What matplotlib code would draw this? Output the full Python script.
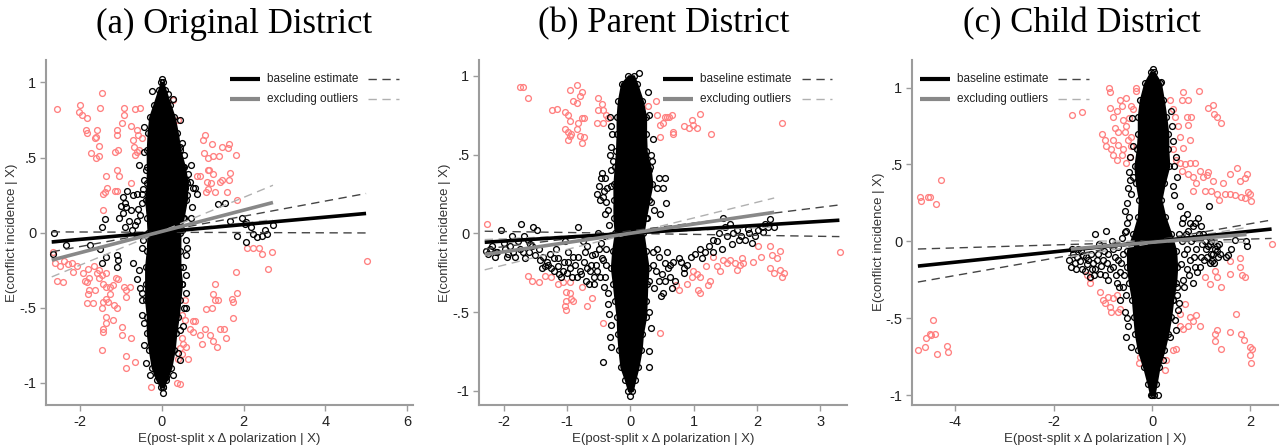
import matplotlib
matplotlib.use('Agg')
import matplotlib.pyplot as plt
import numpy as np

RED = '#ff8080'
SPINE = '#9c9c9c'
SANS = ['Liberation Sans Narrow', 'Liberation Sans', 'DejaVu Sans']

titles = ['(a) Original District', '(b) Parent District', '(c) Child District']
xticks = [[-2, 0, 2, 4, 6], [-2, -1, 0, 1, 2, 3], [-4, -2, 0, 2]]
yticks = [-1, -0.5, 0, 0.5, 1]
ytick_labels = ['-1', '-.5', '0', '.5', '1']
legend_labels = ['baseline estimate', 'excluding outliers']

# ---------------- (a) Original District ----------------
a_red = np.array([
    (-2.58, 0.82), (-2.01, 0.85), (-2.03, 0.80), (-1.97, 0.78), (-1.83, 0.76), (-1.86, 0.68), (-1.83, 0.66),
    (-1.46, 0.93), (-1.52, 0.83), (-1.60, 0.68), (-1.62, 0.64), (-1.64, 0.63), (-1.55, 0.58), (-1.73, 0.53),
    (-1.62, 0.50), (-1.54, 0.51), (-0.92, 0.83), (-0.93, 0.78), (-0.99, 0.73), (-1.11, 0.68), (-1.10, 0.65),
    (-0.66, 0.82), (-0.54, 0.83), (-0.77, 0.71), (-0.62, 0.68), (-0.58, 0.65), (-0.50, 0.63), (-0.70, 0.62),
    (-0.69, 0.57), (-0.62, 0.54), (-0.66, 0.52), (-0.56, 0.55), (-1.15, 0.54), (-1.07, 0.55), (-1.11, 0.42),
    (-1.05, 0.38), (-1.11, 0.28), (-1.36, 0.38), (-1.40, 0.27), (-1.34, 0.30), (-1.44, 0.26), (-1.45, 0.15),
    (-0.76, 0.33), (-1.15, 0.28),
    (0.28, 0.88), (0.40, 0.75), (1.01, 0.62), (1.05, 0.65), (1.22, 0.59), (1.03, 0.53), (1.14, 0.50),
    (1.26, 0.51), (1.40, 0.51), (1.46, 0.57), (1.61, 0.56), (1.65, 0.59), (1.81, 0.52), (1.13, 0.42),
    (1.16, 0.42), (0.93, 0.38), (0.85, 0.38), (1.26, 0.39), (1.42, 0.34), (1.48, 0.35), (1.65, 0.35),
    (1.67, 0.40), (1.11, 0.34), (1.19, 0.33), (1.14, 0.29), (1.07, 0.27), (1.30, 0.27), (1.60, 0.27), (1.84, 0.22),
    (-2.66, -0.13), (-2.57, -0.32), (-2.43, -0.33), (-2.62, -0.20), (-2.50, -0.22), (-2.40, -0.19), (-2.30, -0.21),
    (-2.20, -0.20), (-2.09, -0.22), (-2.19, -0.26), (-1.93, -0.27), (-1.81, -0.24), (-1.78, -0.30), (-1.89, -0.32),
    (-1.83, -0.33), (-1.67, -0.22), (-1.60, -0.27), (-1.54, -0.25), (-1.54, -0.30), (-1.78, -0.38), (-1.81, -0.41),
    (-1.64, -0.38), (-1.83, -0.47), (-1.70, -0.47), (-1.48, -0.28), (-1.36, -0.27), (-1.44, -0.34), (-1.37, -0.36),
    (-1.27, -0.36), (-1.19, -0.35), (-1.13, -0.30), (-1.07, -0.31), (-1.27, -0.41), (-1.31, -0.46), (-1.44, -0.46),
    (-1.48, -0.50), (-1.37, -0.44), (-1.36, -0.56), (-1.37, -0.60), (-1.44, -0.64), (-1.45, -0.66), (-1.18, -0.48),
    (-1.11, -0.50), (-1.19, -0.58), (-1.46, -0.78), (-0.93, -0.36), (-0.87, -0.38), (-0.78, -0.36), (-0.87, -0.43),
    (-0.99, -0.63), (-0.99, -0.68), (-0.77, -0.70), (-0.87, -0.82), (-0.89, -0.90), (-0.66, -0.86), (-0.28, -1.03),
    (0.56, -0.45), (0.48, -0.55), (0.56, -0.58), (0.75, -0.59), (0.81, -0.59), (0.69, -0.64), (0.77, -0.66),
    (0.93, -0.68), (0.97, -0.74), (1.05, -0.64), (1.18, -0.68), (1.26, -0.72), (1.34, -0.76), (1.42, -0.64),
    (1.52, -0.64), (1.58, -0.70), (1.75, -0.57), (0.48, -0.70), (0.52, -0.74), (0.44, -0.77), (0.60, -0.76),
    (0.48, -0.81), (0.40, -0.84), (0.64, -0.84), (1.09, -0.51), (1.22, -0.50), (1.30, -0.45), (1.38, -0.45),
    (1.26, -0.41), (1.30, -0.34), (1.71, -0.44), (1.75, -0.46), (1.84, -0.40), (1.81, -0.26), (0.36, -1.00),
    (0.44, -1.01), (2.08, -0.10), (2.24, -0.10), (2.37, -0.10), (2.45, -0.14), (2.69, -0.13), (2.61, -0.24),
    (5.02, -0.19),
])
a_blk = np.array([
    (-2.65, 0.00), (-2.68, -0.14), (-2.34, -0.08), (-1.76, -0.08), (-1.52, -0.11), (-1.48, 0.04), (-1.40, 0.09),
    (-1.48, -0.20), (-1.36, -0.16), (-1.11, -0.15), (-1.09, -0.23), (-1.07, -0.18), (-0.95, 0.24), (-0.91, 0.20),
    (-0.87, 0.17), (-0.95, 0.13), (-0.91, 0.04), (-0.80, 0.08), (-0.74, 0.02), (-0.70, -0.20), (-0.62, 0.26),
    (-0.58, 0.16), (-0.50, 0.26), (-0.46, 0.29), (-0.62, 0.08), (-0.54, 0.12), (-0.39, 0.42), (-0.44, 0.54),
    (-0.60, -0.31), (-0.54, -0.37), (-0.38, -0.87), (-0.25, 0.94), (0.00, 1.02), (0.01, 0.95), (0.16, 0.92),
    (0.26, 0.89), (0.44, 0.57), (0.51, 0.44), (0.65, 0.39), (0.69, 0.34), (0.85, 0.26), (0.56, 0.30),
    (0.73, 0.17), (0.48, 0.02), (0.60, -0.05), (0.51, -0.23), (0.48, -0.34), (1.38, 0.19), (1.54, 0.20),
    (1.66, 0.08), (1.95, 0.10), (2.03, 0.06), (2.07, 0.07), (2.19, 0.04), (2.24, -0.01), (2.32, -0.03),
    (2.45, -0.02), (2.52, 0.02), (2.57, -0.01), (2.73, 0.05), (2.07, -0.06), (1.83, -0.02), (0.03, -1.07),
    (0.02, -1.03), (0.11, -0.96), (-0.13, -0.94), (0.26, -0.95),
    (-0.45, 0.70), (-0.44, 0.35), (-0.47, -0.05), (-0.48, -0.45), (-0.45, -0.60), (0.50, 0.60), (0.45, 0.75),
    (0.62, 0.25), (0.55, 0.10), (0.58, -0.15), (0.60, -0.40), (0.55, -0.50), (0.45, -0.65), (0.40, -0.80),
    (-0.55, 0.45), (-0.50, 0.20), (-0.50, -0.10), (-0.55, -0.25), (-0.50, -0.40), (-0.50, -0.55), (-0.45, -0.75),
    (0.55, 0.52), (0.70, 0.45), (0.60, 0.35), (0.75, 0.30), (0.70, 0.10), (0.62, -0.10), (0.60, -0.28),
    (0.60, -0.50), (0.52, -0.62), (0.45, -0.85), (-0.30, -0.95), (0.80, 0.30), (-0.70, 0.25), (-0.75, 0.15),
    (-0.65, 0.05), (-0.85, 0.28), (-1.00, 0.18), (-1.05, 0.10),
])
a_core_y = [1.00, 0.95, 0.85, 0.77, 0.66, 0.55, 0.44, 0.33, 0.22, 0.10, 0.00, -0.12, -0.23, -0.34, -0.45,
            -0.56, -0.67, -0.78, -0.90, -0.98, -1.03]
a_core_lo = [-0.02, -0.08, -0.20, -0.30, -0.34, -0.36, -0.36, -0.36, -0.40, -0.36, -0.34, -0.36, -0.40, -0.40,
             -0.40, -0.36, -0.36, -0.31, -0.24, -0.13, -0.03]
a_core_hi = [0.02, 0.08, 0.20, 0.30, 0.38, 0.44, 0.55, 0.62, 0.60, 0.52, 0.44, 0.44, 0.44, 0.48, 0.44, 0.40,
             0.34, 0.30, 0.22, 0.11, 0.03]
a_base_x, a_base_y = [-2.70, 5.00], [-0.063, 0.127]
a_base_ci = ([-0.129, 0.260], [0.004, -0.003])
a_excl_x, a_excl_y = [-2.70, 2.72], [-0.184, 0.200]
a_excl_ci = ([-0.296, 0.315], [-0.070, 0.085])

# ---------------- (b) Parent District ----------------
b_red = np.array([
    (-1.75, 0.93), (-1.70, 0.93), (-1.62, 0.86), (-1.23, 0.78), (-1.16, 0.79), (-1.03, 0.77), (-0.96, 0.91),
    (-0.85, 0.94), (-0.77, 0.90), (-0.79, 0.87), (-0.90, 0.84), (-0.85, 0.83), (-0.98, 0.75), (-0.95, 0.71),
    (-1.03, 0.66), (-0.98, 0.64), (-0.93, 0.63), (-0.85, 0.66), (-0.77, 0.73), (-0.74, 0.73), (-0.82, 0.70),
    (-0.95, 0.62), (-0.99, 0.59), (-0.79, 0.62), (-0.74, 0.61), (-0.77, 0.57), (-0.51, 0.86), (-0.45, 0.82),
    (-0.51, 0.78), (-0.43, 0.78), (-0.52, 0.70), (-0.43, 0.70), (-0.38, 0.75), (-0.35, 0.73),
    (0.28, 0.81), (0.41, 0.84), (0.42, 0.75), (0.47, 0.69), (0.46, 0.61), (0.52, 0.70), (0.55, 0.74),
    (0.58, 0.74), (0.61, 0.74), (0.65, 0.75), (0.68, 0.64), (0.68, 0.63), (0.84, 0.68), (0.92, 0.67),
    (0.97, 0.72), (1.05, 0.67), (0.99, 0.69), (1.10, 0.76), (1.28, 0.63), (2.39, 0.70),
    (-2.26, 0.06), (-1.61, -0.27), (-1.56, -0.30), (-1.45, -0.31), (-1.35, -0.27), (-1.26, -0.28), (-1.14, -0.32),
    (-1.06, -0.31), (-0.95, -0.31), (-1.01, -0.37), (-0.95, -0.38), (-1.01, -0.43), (-1.03, -0.46), (-1.01, -0.49),
    (-0.93, -0.42), (-0.90, -0.43), (-0.77, -0.34), (-0.69, -0.46), (-0.61, -0.41), (-0.44, -0.57), (0.47, -0.63),
    (0.72, -0.33), (0.77, -0.36), (0.89, -0.32), (0.97, -0.28), (0.99, -0.24), (1.05, -0.26), (1.10, -0.28),
    (1.07, -0.36), (1.10, -0.38), (1.23, -0.33), (1.26, -0.30), (1.20, -0.21), (1.31, -0.15), (1.36, -0.21),
    (1.41, -0.24), (1.47, -0.17), (1.52, -0.19), (1.57, -0.17), (1.65, -0.19), (1.68, -0.23), (1.73, -0.20),
    (1.76, -0.16), (1.78, -0.19), (1.94, -0.18), (2.02, -0.08), (2.07, -0.15), (2.21, -0.08), (2.24, -0.14),
    (2.21, -0.22), (2.26, -0.25), (2.37, -0.11), (2.31, -0.16), (2.37, -0.23), (2.42, -0.25), (2.39, -0.28),
    (3.31, -0.12),
])
b_blk = np.array([
    (-2.28, -0.11), (-2.22, -0.10), (-2.14, -0.15), (-2.05, 0.02), (-1.98, -0.10), (-1.87, -0.02), (-1.82, -0.15),
    (-1.72, 0.06), (-1.66, -0.16), (-1.58, -0.07), (-1.53, 0.04), (-1.48, 0.02), (-1.35, -0.21), (-1.27, -0.13),
    (-1.21, -0.16), (-1.14, -0.21), (-1.06, -0.24), (-1.03, -0.05), (-0.95, -0.22), (-0.90, -0.15), (-0.85, -0.28),
    (-0.82, 0.04), (-0.75, -0.05), (-0.69, -0.22), (-0.65, -0.32), (-0.58, -0.28), (-0.56, -0.13), (-0.51, 0.00),
    (-0.48, 0.21), (-0.45, 0.38), (-0.43, 0.23), (-0.40, 0.12), (-0.53, 0.25), (-0.37, 0.29), (-0.44, -0.17),
    (-0.40, -0.28), (-0.35, -0.38), (-0.33, -0.51), (-0.32, -0.66), (-0.43, -0.82), (-0.32, 0.74), (-0.29, 0.63),
    (-0.32, 0.50), (-0.28, 0.46), (0.26, 0.10), (0.34, 0.46), (0.42, 0.29), (0.52, 0.29), (0.57, 0.19),
    (0.47, 0.12), (0.55, -0.19), (0.63, -0.28), (0.52, -0.38), (0.76, -0.16), (0.84, -0.22), (1.02, -0.13),
    (1.13, -0.16), (1.24, -0.08), (1.36, -0.05), (1.44, -0.10), (1.47, 0.10), (1.57, 0.06), (1.60, -0.07),
    (1.68, 0.02), (1.81, -0.04), (1.92, -0.06), (2.02, 0.02), (2.13, 0.06), (2.21, 0.09), (2.26, 0.04),
    (0.00, -1.03), (0.13, 1.02),
    (-2.10, -0.12), (-1.93, -0.13), (-1.75, -0.10), (-1.62, -0.04), (-1.42, -0.17), (-1.30, -0.20), (-1.18, -0.10),
    (-1.12, -0.26), (-0.98, -0.18), (-0.80, -0.24), (-0.72, -0.12), (-0.62, -0.20), (-0.52, -0.24), (-0.46, -0.06),
    (-0.38, -0.20), (0.35, -0.20), (0.42, -0.10), (0.45, -0.30), (0.62, -0.20), (0.70, -0.30), (0.90, -0.20),
    (1.30, -0.12), (1.52, -0.02), (1.75, -0.02), (1.88, 0.00), (2.08, 0.04), (0.35, 0.60), (0.30, 0.75),
    (0.32, -0.60), (0.30, -0.75), (-0.30, 0.30), (-0.40, 0.35),
    (-2.25, -0.13), (-2.18, -0.08), (-2.12, -0.12), (-2.00, -0.06), (-1.95, -0.15), (-1.90, -0.08), (-1.85, -0.12),
    (-1.78, -0.05), (-1.70, -0.12), (-1.68, -0.02), (-1.60, -0.12), (-1.55, -0.08), (-1.50, -0.14), (-1.45, -0.10),
    (-1.40, -0.22), (-1.38, -0.15), (-1.32, -0.18), (-1.25, -0.22), (-1.20, -0.24), (-1.15, -0.16), (-1.10, -0.28),
    (-1.05, -0.18), (-1.00, -0.25), (-0.98, -0.12), (-0.92, -0.28), (-0.88, -0.20), (-0.83, -0.15), (-0.78, -0.26),
    (-0.74, -0.18), (-0.70, -0.30), (-0.68, -0.08), (-0.64, -0.24), (-0.60, -0.14), (-0.57, -0.32), (-0.54, -0.20),
    (-0.50, -0.10), (-0.48, -0.28), (-0.45, -0.16), (-0.42, -0.34), (-0.40, -0.02), (-0.38, -0.10), (-0.36, -0.45),
    (-0.34, 0.05), (-0.35, 0.15), (-0.38, 0.20), (-0.50, 0.30), (-0.47, 0.35), (-0.42, 0.27), (-0.30, 0.40),
    (-0.31, 0.55), (-0.30, 0.68), (-0.31, -0.58), (-0.30, -0.72),
    (0.30, -0.30), (0.35, -0.12), (0.38, -0.35), (0.40, -0.24), (0.45, -0.15), (0.48, -0.40), (0.50, -0.26),
    (0.55, -0.30), (0.58, -0.12), (0.60, -0.22), (0.65, -0.35), (0.68, -0.18), (0.80, -0.18), (0.85, -0.25),
    (0.95, -0.15), (1.10, -0.10), (1.18, -0.12), (1.30, -0.04), (1.40, 0.00), (1.50, 0.04), (1.62, 0.00),
    (1.72, -0.04), (1.85, 0.03), (1.97, -0.02), (2.10, 0.01), (2.18, 0.04), (0.30, 0.40), (0.32, 0.20),
    (0.38, 0.15), (0.45, 0.35), (0.55, 0.35), (0.32, 0.50), (0.30, -0.50), (0.30, -0.85), (0.28, 0.90),
])
b_core_y = [1.00, 0.95, 0.84, 0.74, 0.63, 0.52, 0.42, 0.31, 0.21, 0.10, 0.00, -0.11, -0.22, -0.32, -0.43,
            -0.53, -0.64, -0.74, -0.85, -0.93, -1.00]
b_core_lo = [-0.03, -0.14, -0.19, -0.21, -0.21, -0.22, -0.24, -0.26, -0.26, -0.26, -0.24, -0.28, -0.30, -0.27,
             -0.24, -0.21, -0.20, -0.18, -0.15, -0.08, -0.03]
b_core_hi = [0.05, 0.10, 0.19, 0.24, 0.24, 0.25, 0.31, 0.34, 0.29, 0.24, 0.20, 0.24, 0.28, 0.26, 0.25, 0.24,
             0.19, 0.17, 0.12, 0.07, 0.03]
b_base_x, b_base_y = [-2.30, 3.30], [-0.057, 0.083]
b_base_ci = ([-0.100, 0.180], [0.013, -0.021])
b_excl_x, b_excl_y = [-2.30, 2.27], [-0.135, 0.133]
b_excl_ci = ([-0.232, 0.224], [-0.040, 0.040])

# ---------------- (c) Child District ----------------
c_red = np.array([
    (-4.72, 0.29), (-4.69, 0.26), (-4.55, 0.29), (-4.52, 0.29), (-4.40, 0.24), (-4.30, 0.40),
    (-4.76, -0.71), (-4.61, -0.69), (-4.59, -0.63), (-4.52, -0.60), (-4.49, -0.61), (-4.42, -0.60), (-4.45, -0.51),
    (-4.37, -0.73), (-4.16, -0.68), (-4.14, -0.72),
    (-1.62, 0.82), (-1.42, 0.84), (-0.87, 1.00), (-0.86, 0.97), (-0.66, 0.92), (-0.52, 0.93), (-0.32, 1.00),
    (-0.32, 0.98), (-0.86, 0.87), (-0.79, 0.81), (-0.71, 0.85), (-0.62, 0.88), (-0.59, 0.79), (-0.47, 0.80),
    (-0.42, 0.88), (-0.39, 0.86), (-1.01, 0.70), (-0.96, 0.66), (-0.93, 0.62), (-0.83, 0.60), (-0.79, 0.66),
    (-0.76, 0.74), (-0.69, 0.71), (-0.69, 0.63), (-0.59, 0.60), (-0.56, 0.71), (-0.52, 0.75), (-0.49, 0.66),
    (-0.42, 0.68), (-0.42, 0.62), (-0.62, 0.56), (-0.52, 0.51), (-0.45, 0.55), (-0.72, 0.53), (-0.79, 0.56),
    (0.36, 0.92), (0.43, 0.86), (0.46, 0.81), (0.53, 0.75), (0.56, 0.68), (0.62, 0.97), (0.60, 0.92),
    (0.73, 0.92), (0.96, 0.98), (0.70, 0.81), (0.73, 0.76), (0.80, 0.81), (0.77, 0.66), (0.63, 0.61),
    (0.43, 0.60), (1.14, 0.87), (1.23, 0.89), (1.26, 0.83), (1.31, 0.81), (1.40, 0.77),
    (0.49, 0.53), (0.56, 0.51), (0.60, 0.46), (0.66, 0.50), (0.77, 0.51), (0.87, 0.51), (0.73, 0.44),
    (0.83, 0.42), (0.90, 0.38), (0.83, 0.33), (0.97, 0.46), (1.04, 0.42), (1.11, 0.43), (1.14, 0.45),
    (1.07, 0.33), (1.24, 0.39), (1.20, 0.33), (1.31, 0.31), (1.36, 0.27), (1.44, 0.38), (1.48, 0.31),
    (1.59, 0.44), (1.72, 0.48), (1.78, 0.39), (1.88, 0.41), (1.92, 0.44), (1.58, 0.31), (1.68, 0.30),
    (1.81, 0.29), (1.88, 0.28), (1.95, 0.32), (2.00, 0.31), (2.02, 0.26),
    (2.44, -0.02), (1.58, -0.13), (1.78, -0.11), (1.78, -0.17), (1.82, -0.22), (1.88, -0.23), (1.58, -0.21),
    (1.27, -0.19), (1.31, -0.23), (1.17, -0.28), (1.41, -0.30), (1.07, -0.23),
    (0.56, -0.47), (0.66, -0.41), (0.77, -0.49), (0.90, -0.48), (0.97, -0.55), (0.73, -0.55), (0.63, -0.57),
    (0.56, -0.55), (0.83, -0.52), (1.27, -0.60), (1.31, -0.58), (1.27, -0.65), (1.41, -0.70), (1.71, -0.47),
    (1.59, -0.59), (1.80, -0.60), (1.86, -0.64), (1.99, -0.69), (2.04, -0.70), (2.00, -0.74), (2.02, -0.79),
    (0.43, -0.71), (0.49, -0.70), (0.29, -0.77), (0.26, -0.84), (-0.25, -0.75), (-0.26, -0.79),
    (-1.06, -0.33), (-1.00, -0.38), (-0.96, -0.40), (-0.89, -0.36), (-0.86, -0.43), (-0.83, -0.46), (-0.79, -0.37),
    (-0.72, -0.35), (-0.69, -0.46), (-0.66, -0.44), (-1.27, -0.24), (-1.27, -0.27), (-1.33, -0.22),
])
c_blk = np.array([
    (-1.64, -0.17), (-1.57, -0.14), (-1.60, -0.08), (-1.47, -0.13), (-1.37, -0.19), (-1.27, -0.23), (-1.17, 0.05),
    (-1.20, -0.14), (-1.10, -0.08), (-1.06, -0.21), (-0.94, 0.07), (-0.89, -0.08), (-0.79, -0.17), (-0.72, -0.27),
    (-0.66, -0.38), (-0.56, -0.46), (-0.52, 0.07), (-0.45, 0.40), (-0.42, 0.31), (-0.47, 0.16), (-0.39, 0.42),
    (-0.52, -0.62), (-0.42, -0.69), (0.56, 0.23), (0.70, 0.18), (0.73, 0.07), (0.83, 0.10), (0.93, 0.15),
    (1.04, 0.05), (1.16, 0.23), (1.14, -0.03), (1.24, -0.08), (1.31, -0.03), (1.34, -0.10), (1.17, -0.14),
    (0.97, -0.17), (0.87, -0.17), (0.77, -0.12), (0.63, -0.25), (0.83, -0.27), (1.54, -0.09), (1.68, 0.01),
    (1.92, -0.03), (1.90, 0.00), (0.43, -0.38), (0.46, -0.51), (0.36, -0.62), (0.22, -0.77), (-0.01, -1.00),
    (0.12, -1.00), (0.02, 1.12), (0.19, 1.04),
    (0.44, 0.49), (0.43, 0.36),
    (-1.50, -0.05), (-1.40, -0.09), (-1.30, -0.12), (-1.15, -0.18), (-1.00, -0.12), (-0.95, -0.22), (-0.80, -0.05),
    (-0.70, -0.12), (-0.65, -0.20), (-0.62, 0.02), (0.60, 0.00), (0.65, -0.08), (0.70, -0.18), (0.90, -0.05),
    (1.00, -0.10), (1.10, -0.05), (1.20, 0.00), (1.25, -0.14), (0.85, 0.02), (0.60, 0.12), (-0.55, 0.20),
    (-0.60, -0.30), (0.55, -0.40), (0.50, -0.30),
    (-1.68, -0.12), (-1.62, -0.05), (-1.55, -0.18), (-1.52, -0.10), (-1.45, -0.06), (-1.42, -0.18), (-1.35, -0.10),
    (-1.32, -0.15), (-1.25, -0.08), (-1.22, -0.18), (-1.18, -0.22), (-1.12, -0.12), (-1.08, -0.02), (-1.03, -0.16),
    (-0.98, -0.06), (-0.92, -0.14), (-0.90, -0.25), (-0.85, -0.18), (-0.82, 0.00), (-0.76, -0.10), (-0.74, -0.22),
    (-0.70, -0.04), (-0.68, -0.30), (-0.64, -0.14), (-0.60, -0.08), (-0.58, -0.22), (-0.56, 0.06), (-0.54, -0.35),
    (-0.50, 0.12), (-0.50, 0.25), (-0.48, 0.35), (-0.50, -0.50), (-0.48, -0.55), (-0.47, 0.45),
    (0.55, 0.05), (0.58, -0.15), (0.62, 0.15), (0.65, -0.30), (0.68, 0.05), (0.72, -0.05), (0.75, -0.22),
    (0.78, 0.12), (0.80, 0.00), (0.85, -0.10), (0.88, 0.12), (0.92, -0.20), (0.95, 0.05), (1.00, 0.10),
    (1.02, -0.02), (1.06, -0.12), (1.08, 0.00), (1.12, -0.10), (1.18, -0.02), (1.20, -0.08), (1.22, -0.13),
    (1.28, -0.05), (1.32, -0.06), (1.36, -0.02), (1.38, -0.08), (0.50, -0.35), (0.52, -0.45), (0.48, -0.58),
    (0.45, 0.30), (0.50, 0.42), (0.48, 0.55), (0.42, 0.65), (0.40, 0.75), (0.38, 0.85), (-0.38, 0.62),
    (-0.40, 0.80), (-0.45, 0.55), (1.50, -0.10), (1.60, -0.05),
])
c_core_y = [1.10, 1.03, 0.92, 0.81, 0.70, 0.60, 0.49, 0.38, 0.27, 0.16, 0.05, -0.06, -0.17, -0.27, -0.38,
            -0.49, -0.60, -0.71, -0.82, -0.93, -1.00]
c_core_lo = [-0.03, -0.15, -0.24, -0.28, -0.28, -0.30, -0.35, -0.32, -0.26, -0.28, -0.38, -0.50, -0.50, -0.46,
             -0.40, -0.37, -0.34, -0.28, -0.17, -0.08, -0.03]
c_core_hi = [0.04, 0.17, 0.23, 0.28, 0.32, 0.32, 0.34, 0.25, 0.18, 0.26, 0.38, 0.48, 0.50, 0.48, 0.42, 0.38,
             0.32, 0.24, 0.14, 0.08, 0.04]
c_base_x, c_base_y = [-4.76, 2.43], [-0.161, 0.080]
c_base_ci = ([-0.265, 0.139], [-0.050, 0.019])
c_excl_x, c_excl_y = [-1.65, 1.92], [-0.050, 0.045]
c_excl_ci = ([-0.100, 0.090], [0.004, -0.006])

panels = [
    dict(red=a_red, blk=a_blk, core=(a_core_y, a_core_lo, a_core_hi), base=(a_base_x, a_base_y, a_base_ci),
         excl=(a_excl_x, a_excl_y, a_excl_ci), xlim=(-2.84, 6.15), ylim=(-1.15, 1.15)),
    dict(red=b_red, blk=b_blk, core=(b_core_y, b_core_lo, b_core_hi), base=(b_base_x, b_base_y, b_base_ci),
         excl=(b_excl_x, b_excl_y, b_excl_ci), xlim=(-2.39, 3.42), ylim=(-1.09, 1.10)),
    dict(red=c_red, blk=c_blk, core=(c_core_y, c_core_lo, c_core_hi), base=(c_base_x, c_base_y, c_base_ci),
         excl=(c_excl_x, c_excl_y, c_excl_ci), xlim=(-4.88, 2.56), ylim=(-1.065, 1.18)),
]

# layout (pixels -> figure fractions)
W, H = 1282, 447
ax_px = [(46, 413), (479, 847), (912, 1278)]
title_cx = [234, 664, 1082]
legend_x = [(0.501, 0.583, 0.601, 0.877, 0.962), (0.500, 0.582, 0.600, 0.877, 0.959),
            (0.022, 0.104, 0.122, 0.399, 0.484)]

fig = plt.figure(figsize=(W / 100, H / 100), dpi=100)

marker_kw = dict(marker='o', ls='none', ms=4.2, mew=0.95, mfc='none')

for i, p in enumerate(panels):
    l, r = ax_px[i]
    ax = fig.add_axes([l / W, (H - 405) / H, (r - l) / W, 345 / H])

    # outliers and observations
    ax.plot(p['red'][:, 0], p['red'][:, 1], mec=RED, zorder=1, **marker_kw)
    cy, clo, chi = p['core']
    ax.fill_betweenx(cy, clo, chi, color='black', lw=1.5, zorder=2)
    ax.plot(clo, cy, mec='black', zorder=2, **marker_kw)
    ax.plot(chi, cy, mec='black', zorder=2, **marker_kw)
    ax.plot(p['blk'][:, 0], p['blk'][:, 1], mec='black', zorder=2, **marker_kw)

    # fitted lines
    ex, ey, eci = p['excl']
    bx, by, bci = p['base']
    ax.plot(ex, eci[0], color='#b0b0b0', lw=1.0, ls=(0, (6, 4)), zorder=3)
    ax.plot(ex, eci[1], color='#b0b0b0', lw=1.0, ls=(0, (6, 4)), zorder=3)
    ax.plot(bx, bci[0], color='#444444', lw=1.0, ls=(0, (6, 4)), zorder=3)
    ax.plot(bx, bci[1], color='#444444', lw=1.0, ls=(0, (6, 4)), zorder=3)
    ax.plot(bx, by, color='black', lw=2.6, solid_capstyle='butt', zorder=4)
    ax.plot(ex, ey, color='#888888', lw=2.6, solid_capstyle='butt', zorder=5)

    # manual legend
    x0, x1, xt, d0, d1 = legend_x[i]
    for yy, lab, c_line, c_dash in [(0.945, legend_labels[0], 'black', '#444444'),
                                    (0.887, legend_labels[1], '#888888', '#b0b0b0')]:
        ax.plot([x0, x1], [yy, yy], color=c_line, lw=3, transform=ax.transAxes, solid_capstyle='butt', zorder=6)
        ax.plot([d0, d1], [yy, yy], color=c_dash, lw=1.0, ls=(0, (6, 4)), transform=ax.transAxes, zorder=6)
        ax.text(xt, yy, lab, transform=ax.transAxes, va='center', ha='left', fontsize=8.5,
                family=SANS, color='#222222', zorder=6)

    ax.set_xlim(*p['xlim'])
    ax.set_ylim(*p['ylim'])
    ax.set_xticks(xticks[i])
    ax.set_xticklabels([str(t) for t in xticks[i]], family=SANS)
    ax.set_yticks(yticks)
    ax.set_yticklabels(ytick_labels, family=SANS)
    ax.tick_params(direction='out', length=4, width=1, color=SPINE, labelsize=10.5, labelcolor='#222222', pad=3)

    for s in ['top', 'right']:
        ax.spines[s].set_visible(False)
    for s in ['left', 'bottom']:
        ax.spines[s].set_color(SPINE)
        ax.spines[s].set_linewidth(1.5)

    ax.set_xlabel('E(post-split x \u0394 polarization | X)', family=SANS, fontsize=9.5, color='#333333', labelpad=3)
    ax.set_ylabel('E(conflict incidence | X)', family=SANS, fontsize=9.5, color='#333333')
    y0 = (0 - p['ylim'][0]) / (p['ylim'][1] - p['ylim'][0])
    ax.yaxis.set_label_coords(-0.075, y0)

    fig.text(title_cx[i] / W, 1 - 24 / H, titles[i], ha='center', va='center',
             family=['Liberation Serif', 'DejaVu Serif'], fontsize=25)

fig.savefig('out.png', dpi=100)
